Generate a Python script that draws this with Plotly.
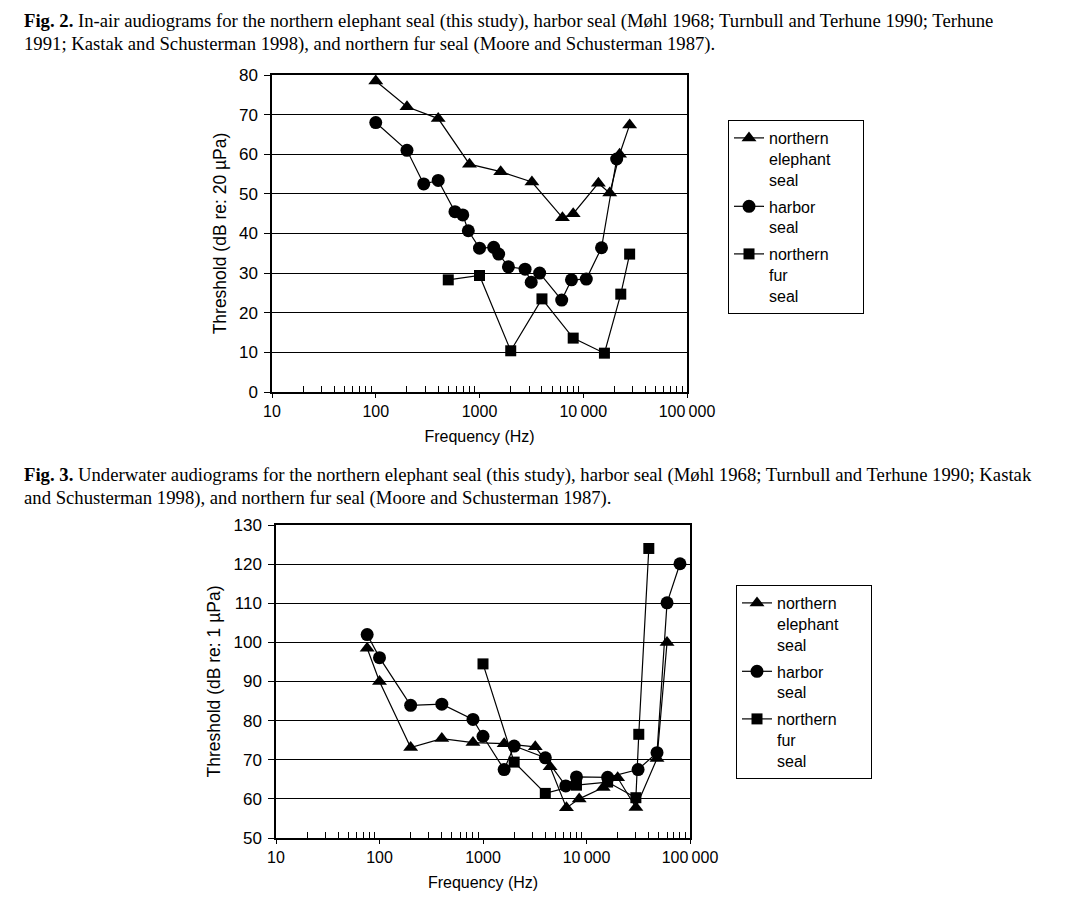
import plotly.graph_objects as go

# ---------------- Data: Fig. 2 (in-air) ----------------
nes_air_f = [100, 200, 400, 800, 1600, 3200, 6300, 8000, 14000, 18000, 22400, 28000]
nes_air_db = [78.5, 72, 69, 57.5, 55.6, 53, 44, 45, 52.7, 50.2, 60, 67.4]

harbor_air_f = [100, 200, 290, 400, 580, 690, 780, 1000, 1370, 1530, 1900, 2750, 3150, 3800,
                6200, 7700, 10700, 15000, 21000]
harbor_air_db = [68, 61, 52.5, 53.4, 45.5, 44.7, 40.7, 36.3, 36.5, 34.8, 31.6, 31, 27.7, 30,
                 23.2, 28.3, 28.5, 36.4, 58.8]

fur_air_f = [500, 1000, 2000, 4000, 8000, 16000, 23000, 28000]
fur_air_db = [28.3, 29.4, 10.4, 23.5, 13.6, 9.8, 24.7, 34.8]

# ---------------- Data: Fig. 3 (underwater) ----------------
nes_w_f = [76, 100, 200, 400, 800, 1600, 3200, 4450, 6400, 8500, 14500, 20000, 30000, 48000, 60000]
nes_w_db = [98.5, 90, 73.1, 75.4, 74.4, 74.1, 73.3, 68.2, 57.7, 60, 62.9, 65.4, 57.8, 70.3, 100]

harbor_w_f = [76, 100, 200, 400, 800, 1000, 1600, 2000, 4000, 6300, 8000, 16000, 31500, 48000,
              60000, 80000]
harbor_w_db = [102, 96.1, 83.9, 84.2, 80.3, 76, 67.5, 73.5, 70.5, 63.3, 65.6, 65.5, 67.5, 71.8,
               110.1, 120.1]

fur_w_f = [1000, 2000, 4000, 8000, 16000, 30000, 32000, 40000]
fur_w_db = [94.5, 69.4, 61.4, 63.5, 64.3, 60.3, 76.5, 124]

NB = "\u00a0"
series_names = ["northern<br>elephant" + NB * 6 + "<br>seal", "harbor<br>seal", "northern<br>fur<br>seal"]
x_tickvals = [10, 100, 1000, 10000, 100000]
x_ticktext = ["10", "100", "1000", "10\u2009000", "100\u2009000"]
minor_vals = [m * 10 ** d for d in range(1, 5) for m in range(2, 10)]

caption2 = ["<b>Fig. 2.</b> In-air audiograms for the northern elephant seal (this study), harbor seal (Møhl 1968; Turnbull and Terhune 1990; Terhune",
            "1991; Kastak and Schusterman 1998), and northern fur seal (Moore and Schusterman 1987)."]
caption3 = ["<b>Fig. 3.</b> Underwater audiograms for the northern elephant seal (this study), harbor seal (Møhl 1968; Turnbull and Terhune 1990; Kastak",
            "and Schusterman 1998), and northern fur seal (Moore and Schusterman 1987)."]

W, H = 1069, 906
OFF = 8  # page body margin
SANS = "Liberation Sans, Arial, sans-serif"
SERIF = "Liberation Serif, Times New Roman, serif"


def px(xp):
    return (xp - OFF) / W


def py(yp):
    return 1 - (yp - OFF) / H


fig = go.Figure()

symbols = ["triangle-up", "circle", "square"]
sizes = [13, 13, 11]

air = [(nes_air_f, nes_air_db), (harbor_air_f, harbor_air_db), (fur_air_f, fur_air_db)]
water = [(nes_w_f, nes_w_db), (harbor_w_f, harbor_w_db), (fur_w_f, fur_w_db)]

for i, (f, db) in enumerate(air):
    fig.add_trace(go.Scatter(
        x=f, y=db, mode="lines+markers", name=series_names[i],
        line=dict(color="black", width=1.2),
        marker=dict(symbol=symbols[i], size=sizes[i], color="black"),
        xaxis="x", yaxis="y", legend="legend", legendgroup="a%d" % i))

for i, (f, db) in enumerate(water):
    fig.add_trace(go.Scatter(
        x=f, y=db, mode="lines+markers", name=series_names[i],
        line=dict(color="black", width=1.2),
        marker=dict(symbol=symbols[i], size=sizes[i], color="black"),
        xaxis="x2", yaxis="y2", legend="legend2", legendgroup="w%d" % i))


def xaxis_cfg(domain, anchor):
    return dict(
        type="log", range=[1, 5], domain=domain, anchor=anchor, automargin=False,
        tickvals=x_tickvals, ticktext=x_ticktext,
        showgrid=False, zeroline=False,
        showline=True, linecolor="black", linewidth=1.5, mirror=True,
        ticks="outside", ticklen=4, tickcolor="black", tickwidth=1,
        minor=dict(tickvals=minor_vals, ticks="inside", ticklen=6, tickcolor="black",
                   tickwidth=1, showgrid=False),
        tickfont=dict(family=SANS, size=16, color="black"),
        title=dict(text="Frequency (Hz)", font=dict(family=SANS, size=16, color="black"),
                   standoff=12),
    )


def yaxis_cfg(domain, anchor, rng, title):
    return dict(
        range=rng, domain=domain, anchor=anchor, dtick=10, automargin=False,
        showgrid=True, gridcolor="black", gridwidth=1, zeroline=False,
        showline=True, linecolor="black", linewidth=1.5, mirror=True,
        ticks="outside", ticklen=6, tickcolor="black", ticklabelstandoff=3,
        tickfont=dict(family=SANS, size=17, color="black"),
        title=dict(text=title, font=dict(family=SANS, size=17.5, color="black"), standoff=8),
    )


legend_common = dict(
    xanchor="left", yanchor="top", bgcolor="white", bordercolor="black", borderwidth=1,
    font=dict(family=SANS, size=16, color="black"), valign="top",
    tracegroupgap=3, itemwidth=30,
)

annotations = []
for j, line in enumerate(caption2):
    annotations.append(dict(text=line, x=px(22), y=py(21 + 23 * j), xref="paper", yref="paper",
                            xanchor="left", yanchor="middle", showarrow=False,
                            font=dict(family=SERIF, size=18.7, color="black")))
for j, line in enumerate(caption3):
    annotations.append(dict(text=line, x=px(22), y=py(475 + 23 * j), xref="paper", yref="paper",
                            xanchor="left", yanchor="middle", showarrow=False,
                            font=dict(family=SERIF, size=18.7, color="black")))

fig.update_layout(
    width=W, height=H, margin=dict(l=0, r=0, t=0, b=0, autoexpand=False),
    paper_bgcolor="white", plot_bgcolor="white",
    xaxis=xaxis_cfg([px(272), px(687)], "y"),
    yaxis=yaxis_cfg([py(392), py(75)], "x", [0, 80], "Threshold (dB re: 20 µPa)"),
    xaxis2=xaxis_cfg([px(276), px(690)], "y2"),
    yaxis2=yaxis_cfg([py(838), py(525)], "x2", [50, 130], "Threshold (dB re: 1 µPa)"),
    legend=dict(x=px(728), y=py(120), **legend_common),
    legend2=dict(x=px(736), y=py(585), **legend_common),
    annotations=annotations,
    showlegend=True,
)

fig.write_html("out.html")
